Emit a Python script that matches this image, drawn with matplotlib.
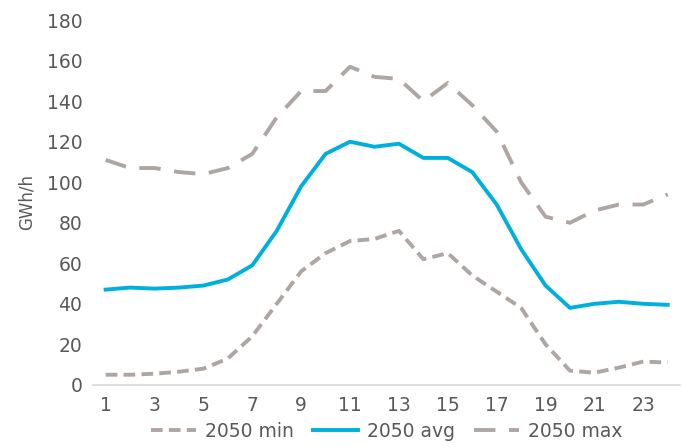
import matplotlib.pyplot as plt

plt.rcParams['font.family'] = ['DejaVu Sans']

hours = list(range(1, 25))
avg_2050 = [47, 48, 47.5, 48, 49, 52, 59, 76, 98, 114, 120, 117.5, 119, 112, 112, 105,
            89, 67, 49, 38, 40, 41, 40, 39.5]
max_2050 = [111, 107, 107, 105, 104, 107, 114, 132, 145, 145, 157, 152, 151, 140, 149, 138,
            125, 100, 83, 80, 86, 89, 89, 94]
min_2050 = [5, 5, 5.5, 6.5, 8, 13, 24, 40, 56, 65, 71, 72, 76, 62, 65, 54,
            46, 38, 20, 7, 6, 8.5, 11.5, 11]
xticks = list(range(1, 24, 2))

grey = '#aea6a3'
blue = '#00b0dc'
text = '#595959'

fig = plt.figure(figsize=(6.82, 4.47), dpi=100)
ax = fig.add_axes([0.137, 0.139, 0.86, 0.816])

ax.plot(hours, min_2050, color=grey, lw=2.8, dashes=(3, 1.6), label='2050 min')
ax.plot(hours, avg_2050, color=blue, lw=2.8, label='2050 avg')
ax.plot(hours, max_2050, color=grey, lw=2.8, dashes=(5.5, 3.5), label='2050 max')

ax.set_xlim(0.5, 24.5)
ax.set_ylim(0, 180)
ax.set_yticks(range(0, 181, 20))
ax.set_xticks(xticks)
ax.tick_params(length=0, labelsize=13.5, colors=text, pad=8)
ax.set_ylabel('GWh/h', fontsize=12, color=text, labelpad=8)

for s in ['top', 'right', 'left']:
    ax.spines[s].set_visible(False)
ax.spines['bottom'].set_color('#d9d9d9')
ax.spines['bottom'].set_linewidth(1.2)

leg = ax.legend(loc='upper center', bbox_to_anchor=(0.5, -0.055), ncol=3, frameon=False,
                fontsize=13.5, handlelength=2.4, columnspacing=1.0, handletextpad=0.5)
for t in leg.get_texts():
    t.set_color(text)

fig.savefig('out.png', dpi=100)
